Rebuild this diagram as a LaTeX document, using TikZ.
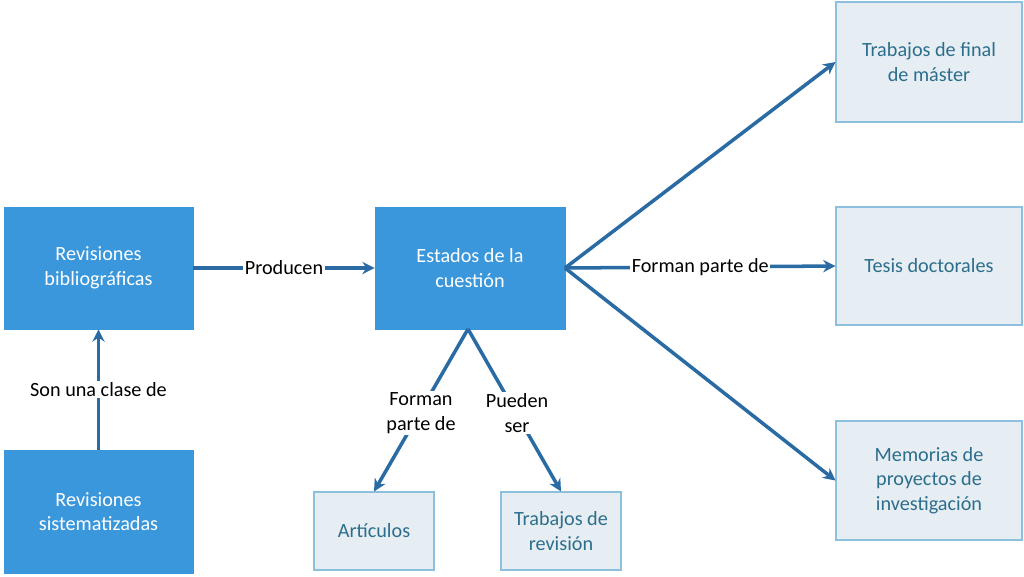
\documentclass[tikz,border=0pt]{standalone}
\usepackage{fontspec}
\setmainfont{Carlito}
\usetikzlibrary{arrows.meta}
\definecolor{dbox}{HTML}{3A97DB}
\definecolor{lbox}{HTML}{E6EEF3}
\definecolor{lbord}{HTML}{8CC0DC}
\definecolor{ltext}{HTML}{2C6E8C}
\definecolor{arr}{HTML}{2A6BA3}
\begin{document}
\begin{tikzpicture}[x=0.02cm,y=-0.02cm,
  dark/.style={fill=dbox,draw=dbox,text=white,align=center,font=\fontsize{11.5}{14}\selectfont,inner sep=0},
  light/.style={fill=lbox,draw=lbord,line width=0.6pt,text=ltext,align=center,font=\fontsize{11.5}{14}\selectfont,inner sep=0},
  con/.style={draw=arr,line width=2pt,-{Stealth[length=7pt,width=7pt]}},
  lab/.style={fill=white,inner sep=1pt,align=center,font=\fontsize{11.5}{14}\selectfont}]
\useasboundingbox (0,0) rectangle (1024,576);
\node[dark,minimum width=189*0.02cm,minimum height=122*0.02cm] (rb) at (98.5,268) {Revisiones\\bibliográficas};
\node[dark,minimum width=189*0.02cm,minimum height=123*0.02cm] (rs) at (98.5,511.5) {Revisiones\\sistematizadas};
\node[dark,minimum width=190*0.02cm,minimum height=122*0.02cm] (ec) at (470,268) {Estados de la\\cuestión};
\node[light,minimum width=120*0.02cm,minimum height=78*0.02cm] (ar) at (374,531) {Artículos};
\node[light,minimum width=120*0.02cm,minimum height=78*0.02cm] (tr) at (561,531) {Trabajos de\\revisión};
\node[light,minimum width=186*0.02cm,minimum height=120*0.02cm] (tfm) at (929,62) {Trabajos de final\\de máster};
\node[light,minimum width=186*0.02cm,minimum height=118*0.02cm] (td) at (929,266) {Tesis doctorales};
\node[light,minimum width=186*0.02cm,minimum height=119*0.02cm] (mp) at (929,480.5) {Memorias de\\proyectos de\\investigación};
\coordinate (eb) at (468,329);
\coordinate (er) at (565,268);
\draw[con] (rb.east) -- node[lab] {Producen} (ec.west);
\draw[con] (rs.north) -- node[lab] {Son una clase de} (rb.south);
\draw[con] (er) -- (tfm.west);
\draw[con] (er) -- node[lab,pos=0.5] {Forman parte de} (td.west);
\draw[con] (er) -- (mp.west);
\draw[con] (eb) -- (ar.north);
\draw[con] (eb) -- (tr.north);
\node[lab] (l1) at (421,413) {Forman\\parte de};
\node[lab] (l2) at (517,413) {Pueden\\ser\hspace{1.2em}};
\end{tikzpicture}
\end{document}
